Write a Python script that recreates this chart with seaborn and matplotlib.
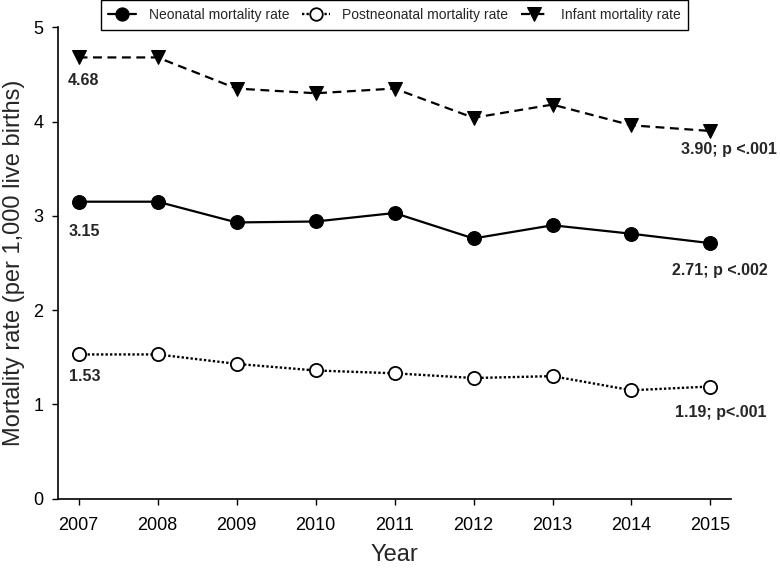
"""Neonatal / postneonatal / infant mortality rates, 2007-2015."""
import matplotlib
matplotlib.use('Agg')
import matplotlib.pyplot as plt
import pandas as pd
import seaborn as sns

years = [2007, 2008, 2009, 2010, 2011, 2012, 2013, 2014, 2015]
neonatal = [3.15, 3.15, 2.93, 2.94, 3.03, 2.76, 2.90, 2.81, 2.71]
postneonatal = [1.53, 1.53, 1.43, 1.36, 1.33, 1.28, 1.30, 1.15, 1.19]
infant = [4.68, 4.68, 4.35, 4.30, 4.35, 4.04, 4.18, 3.96, 3.90]

series_names = ["Neonatal mortality rate", "Postneonatal mortality rate", "Infant mortality rate"]

# first / last value labels: (series, index, text, x offset px, y offset px)
labels = [
    (infant, 0, "4.68", -11, -23),
    (neonatal, 0, "3.15", -10, -30),
    (postneonatal, 0, "1.53", -10, -22),
    (infant, -1, "3.90; p <.001", -29, -19),
    (neonatal, -1, "2.71; p <.002", -38, -27),
    (postneonatal, -1, "1.19; p<.001", -35, -26),
]

df = pd.DataFrame({'Year': years, 'neo': neonatal, 'post': postneonatal, 'inf': infant})

sns.set_style('ticks')
plt.rcParams['font.family'] = ['Liberation Sans', 'DejaVu Sans']

fig = plt.figure(figsize=(7.8, 5.68), dpi=100)
ax = fig.add_axes([0.0744, 0.122, 0.8628, 0.830])

sns.lineplot(data=df, x='Year', y='neo', ax=ax, color='black', linewidth=1.6,
             marker='o', markersize=10, markerfacecolor='black', markeredgecolor='black',
             label=series_names[0])
sns.lineplot(data=df, x='Year', y='post', ax=ax, color='black', linewidth=1.7,
             linestyle=(0, (1, 0.9)), marker='o', markersize=9.5, markerfacecolor='white',
             markeredgecolor='black', markeredgewidth=1.3, label=series_names[1])
sns.lineplot(data=df, x='Year', y='inf', ax=ax, color='black', linewidth=1.6,
             linestyle=(0, (4, 2.5)), marker='v', markersize=10, markerfacecolor='black',
             markeredgecolor='black', label=series_names[2])

for vals, i, txt, dx, dy in labels:
    ax.annotate(txt, xy=(years[i], vals[i]), xytext=(dx, dy), textcoords='offset pixels',
                ha='left', va='center', fontsize=11.5, fontweight='bold')

ax.set_xlim(2006.74, 2015.26)
ax.set_ylim(0, 5)
ax.set_xticks(years)
ax.set_yticks([0, 1, 2, 3, 4, 5])
ax.tick_params(labelsize=13, length=4.5, width=1, pad=6, color='black', labelcolor='black')
ax.tick_params(axis='x', pad=9)
for side in ['left', 'bottom']:
    ax.spines[side].set_color('black')
    ax.spines[side].set_linewidth(1.2)
sns.despine(ax=ax)

ax.set_xlabel('Year', fontsize=17, labelpad=7)
ax.set_ylabel('Mortality rate (per 1,000 live births)', fontsize=17, labelpad=6)

leg = ax.legend(loc='upper center', bbox_to_anchor=(0.5, 1.072), ncol=3, fontsize=10,
                frameon=True, fancybox=False, edgecolor='black', framealpha=1,
                handlelength=2.0, handletextpad=0.9, columnspacing=0.9,
                borderpad=0.55, markerscale=0.95)
leg.get_frame().set_linewidth(1.0)

fig.savefig('out.png', dpi=100)
